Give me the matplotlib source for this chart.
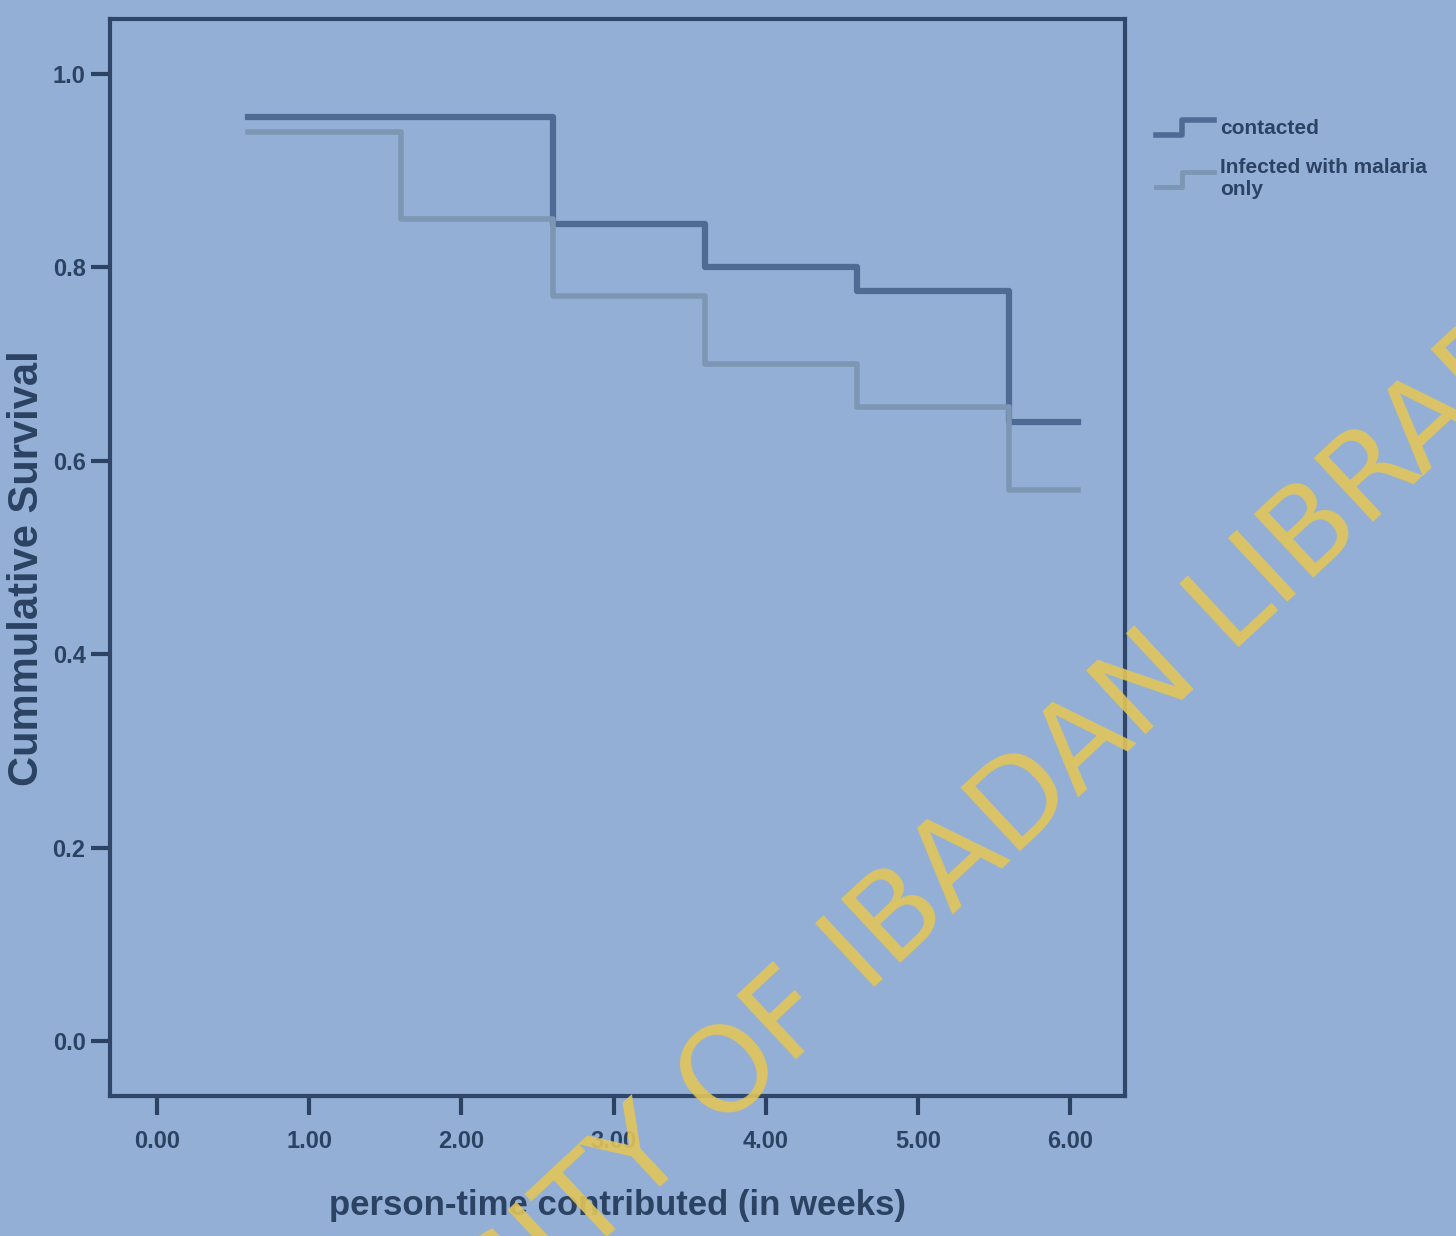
import matplotlib
matplotlib.use("Agg")
import matplotlib.pyplot as plt
from matplotlib.lines import Line2D
from matplotlib.legend_handler import HandlerBase

# Data (Kaplan-Meier step estimates)
contacted_t = [0.6, 2.6, 3.6, 4.6, 5.6, 6.05]
contacted_s = [0.955, 0.845, 0.80, 0.775, 0.64, 0.64]
malaria_t = [0.6, 1.6, 2.6, 3.6, 4.6, 5.6, 6.05]
malaria_s = [0.94, 0.85, 0.77, 0.70, 0.655, 0.57, 0.57]
series_labels = ["contacted", "Infected with malaria\nonly"]
x_ticks = [0, 1, 2, 3, 4, 5, 6]
x_ticklabels = ["0.00", "1.00", "2.00", "3.00", "4.00", "5.00", "6.00"]
y_ticks = [0.0, 0.2, 0.4, 0.6, 0.8, 1.0]
y_ticklabels = ["0.0", "0.2", "0.4", "0.6", "0.8", "1.0"]

bg = "#94afd5"
txt = "#2b4263"
c1 = "#4e6b96"
c2 = "#7d96b4"


class StepHandler(HandlerBase):
    def create_artists(self, legend, orig_handle, xdescent, ydescent,
                       width, height, fontsize, trans):
        xs = [0, 0.45 * width, 0.45 * width, width]
        ys = [0.05 * height, 0.05 * height, 0.85 * height, 0.85 * height]
        ln = Line2D([x - xdescent for x in xs], [y - ydescent for y in ys],
                    color=orig_handle.get_color(),
                    lw=orig_handle.get_linewidth(), transform=trans)
        return [ln]


plt.rcParams['font.family'] = ['Liberation Sans', 'DejaVu Sans']
fig = plt.figure(figsize=(14.56, 12.36), dpi=100, facecolor=bg)
ax = fig.add_axes([0.0755, 0.113, 0.697, 0.872], facecolor=bg)

ax.step(contacted_t, contacted_s, where="post", color=c1, lw=4.5)
ax.step(malaria_t, malaria_s, where="post", color=c2, lw=4)

ax.set_xlim(-0.31, 6.36)
ax.set_ylim(-0.057, 1.057)
ax.set_xticks(x_ticks)
ax.set_xticklabels(x_ticklabels)
ax.set_yticks(y_ticks)
ax.set_yticklabels(y_ticklabels)
for s in ax.spines.values():
    s.set_color("#2f4668")
    s.set_linewidth(3)
ax.tick_params(axis="both", colors=txt, labelcolor=txt, width=3, length=14,
               labelsize=17)
for lab in ax.get_xticklabels() + ax.get_yticklabels():
    lab.set_fontweight("bold")
ax.tick_params(axis="x", pad=10)

ax.set_xlabel("person-time contributed (in weeks)", fontsize=25,
              fontweight="bold", color=txt, labelpad=26)
ax.set_ylabel("Cummulative Survival", fontsize=30, fontweight="bold",
              color=txt)
ax.yaxis.set_label_coords(-0.062, 0.49)

handles = [Line2D([], [], color=c1, lw=4), Line2D([], [], color=c2, lw=3.5)]
leg = fig.legend(handles, series_labels, loc="upper left",
                 bbox_to_anchor=(0.781, 0.92), frameon=False,
                 prop={"size": 15, "weight": "bold"}, handlelength=2.8,
                 handleheight=1.0, labelspacing=0.95, handletextpad=0.3,
                 handler_map={Line2D: StepHandler()})
for t in leg.get_texts():
    t.set_color(txt)

# watermark (partially outside the picture, as in the reference)
fig.text(0.59, 0.226, "UNIVERSITY OF IBADAN LIBRARY", rotation=43,
         fontsize=86, color="#e2c659", alpha=0.9, ha="center", va="center",
         rotation_mode="anchor", zorder=10, family="DejaVu Sans")

fig.savefig("out.png", dpi=100, facecolor=bg)
